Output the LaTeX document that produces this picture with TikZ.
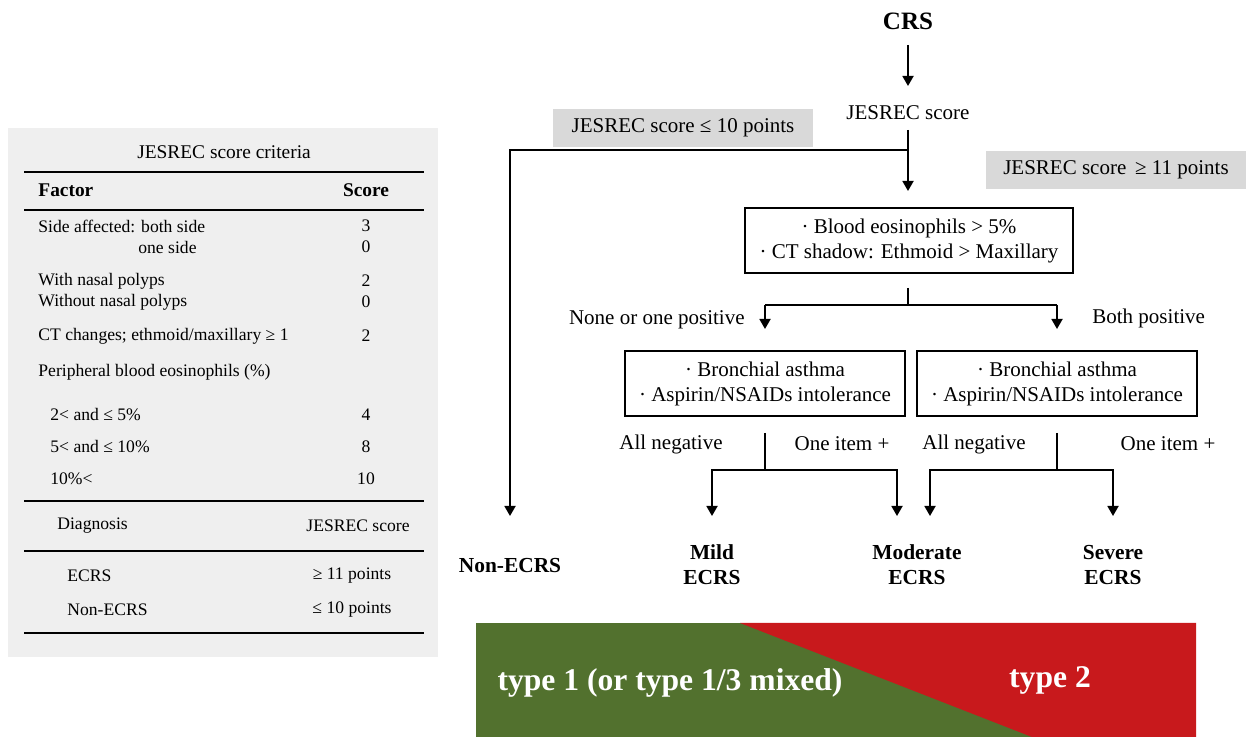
\documentclass[tikz,border=0pt]{standalone}
\usepackage{fontspec}
\setmainfont{Liberation Serif}
\usetikzlibrary{arrows.meta}
\definecolor{panelgray}{HTML}{EFEFEF}
\definecolor{labgray}{HTML}{D9D9D9}
\definecolor{tgreen}{HTML}{52712E}
\definecolor{tred}{HTML}{C8191C}
\begin{document}
\begin{tikzpicture}[x=0.5pt,y=-0.5pt,
  txt/.style={font=\fontsize{8.8}{10.5}\selectfont, inner sep=0pt},
  lt/.style={txt, anchor=west},
  ftxt/.style={font=\fontsize{10.5}{12.5}\selectfont, inner sep=0pt},
  bl/.style={font=\bfseries\fontsize{10.7}{12.5}\selectfont, inner sep=0pt, align=center},
  rule/.style={line width=1pt},
  conn/.style={line width=0.9pt},
  arr/.style={conn, -{Triangle[length=5pt,width=5.5pt]}},
  crit/.style={draw, line width=0.6pt, ftxt, align=center, minimum height=32.5pt, minimum width=140pt},
  glab/.style={fill=labgray, ftxt, minimum height=19pt, minimum width=130pt}
]
\useasboundingbox (0,0) rectangle (1250,737);
% ---------- left panel ----------
\fill[panelgray] (8,128) rectangle (438,657);
\node[txt, font=\fontsize{9.7}{11}\selectfont] (title) at (224,152) {JESREC score criteria};
\draw[rule] (24,172) -- (424,172);
\node[lt, font=\bfseries\fontsize{9.7}{11}\selectfont] (fac) at (38,190) {Factor};
\node[txt, font=\bfseries\fontsize{9.7}{11}\selectfont] (sco) at (366,190) {Score};
\draw[rule] (24,210) -- (424,210);
\node[lt] (r1) at (38,226) {Side affected: both side};
\node[txt] (s1) at (366,226) {3};
\node[lt] (r2) at (138,247) {one side};
\node[txt] (s2) at (366,247) {0};
\node[lt] (r3) at (38,281) {With nasal polyps};
\node[txt] (s3) at (366,281) {2};
\node[lt] (r4) at (38,302) {Without nasal polyps};
\node[txt] (s4) at (366,302) {0};
\node[lt] (r5) at (38,336) {CT changes; ethmoid/maxillary ≥ 1};
\node[txt] (s5) at (366,336) {2};
\node[lt] (r6) at (38,372) {Peripheral blood eosinophils (\%)};
\node[lt] (r7) at (50,415) {2< and ≤ 5\%};
\node[txt] (s7) at (366,415) {4};
\node[lt] (r8) at (50,447) {5< and ≤ 10\%};
\node[txt] (s8) at (366,447) {8};
\node[lt] (r9) at (50,479) {10\%<};
\node[txt] (s9) at (366,479) {10};
\draw[rule] (24,501) -- (424,501);
\node[lt] (dg) at (57,526) {Diagnosis};
\node[txt] (js) at (358,526) {JESREC score};
\draw[rule] (24,551) -- (424,551);
\node[lt] (d1) at (67,576) {ECRS};
\node[txt] (p1) at (352,576) {≥ 11 points};
\node[lt] (d2) at (67,610) {Non-ECRS};
\node[txt] (p2) at (352,610) {≤ 10 points};
\draw[rule] (24,633) -- (424,633);
% ---------- flowchart ----------
\node[font=\bfseries\fontsize{12.5}{14}\selectfont, inner sep=0pt] (crs) at (908,21) {CRS};
\node[ftxt] (jes) at (908,113) {JESREC score};
\node[glab] (low) at (683,128) {JESREC score ≤ 10 points};
\node[glab] (high) at (1116,170) {JESREC score \,≥ 11 points};
\node[crit, minimum width=164pt] (b1) at (909,240.5) {· Blood eosinophils > 5\%\\· CT shadow: Ethmoid > Maxillary};
\node[crit] (b2) at (765,383.5) {· Bronchial asthma\\· Aspirin/NSAIDs intolerance};
\node[crit] (b3) at (1057,383.5) {· Bronchial asthma\\· Aspirin/NSAIDs intolerance};
\node[ftxt, anchor=east] (none) at (745,320) {None or one positive};
\node[ftxt, anchor=west] (both) at (1092,318) {Both positive};
\node[ftxt] (an1) at (671,444) {All negative};
\node[ftxt] (oi1) at (842,444) {One item +};
\node[ftxt] (an2) at (974,444) {All negative};
\node[ftxt] (oi2) at (1168,444) {One item +};
\node[bl] (non) at (510,566) {Non-ECRS};
\node[bl] (mild) at (712,565) {Mild\\ECRS};
\node[bl] (mod) at (917,565) {Moderate\\ECRS};
\node[bl] (sev) at (1113,565) {Severe\\ECRS};
% junction coordinates
\coordinate (c0) at (908,45);
\coordinate (c1) at (908,86);
\coordinate (j0) at (908,130);
\coordinate (j1) at (908,150);
\coordinate (e1) at (908,191);
\coordinate (ln) at (510,150);
\coordinate (le) at (510,516);
\coordinate (k0) at (908,288);
\coordinate (k1) at (908,305);
\coordinate (kL) at (765,305);
\coordinate (kR) at (1057,305);
\coordinate (kLe) at (765,329);
\coordinate (kRe) at (1057,329);
\coordinate (m0) at (765,433);
\coordinate (m1) at (765,470);
\coordinate (mL) at (712,470);
\coordinate (mR) at (897,470);
\coordinate (mLe) at (712,516);
\coordinate (mRe) at (897,516);
\coordinate (n0) at (1057,433);
\coordinate (n1) at (1057,470);
\coordinate (nL) at (930,470);
\coordinate (nR) at (1113,470);
\coordinate (nLe) at (930,516);
\coordinate (nRe) at (1113,516);
\draw[arr] (c0) -- (c1);
\draw[arr] (j0) -- (e1);
\draw[arr] (j1) -- (ln) -- (le);
\draw[conn] (k0) -- (k1);
\draw[arr] (kL) -- (kLe);
\draw[arr] (kR) -- (kRe);
\draw[conn] (kL) -- (kR);
\draw[conn] (m0) -- (m1);
\draw[arr] (m1) -- (mL) -- (mLe);
\draw[arr] (m1) -- (mR) -- (mRe);
\draw[conn] (n0) -- (n1);
\draw[arr] (n1) -- (nL) -- (nLe);
\draw[arr] (n1) -- (nR) -- (nRe);
% ---------- bottom band ----------
\fill[tgreen] (476,623) rectangle (1196,737);
\fill[tred] (740,623) -- (1196,623) -- (1196,737) -- (1032,737) -- cycle;
\node[font=\bfseries\fontsize{15.8}{18}\selectfont, text=white, inner sep=0pt] (t1) at (670,683) {type 1 (or type 1/3 mixed)};
\node[font=\bfseries\fontsize{15.8}{18}\selectfont, text=white, inner sep=0pt] (t2) at (1050,680) {type 2};
\end{tikzpicture}
\end{document}
